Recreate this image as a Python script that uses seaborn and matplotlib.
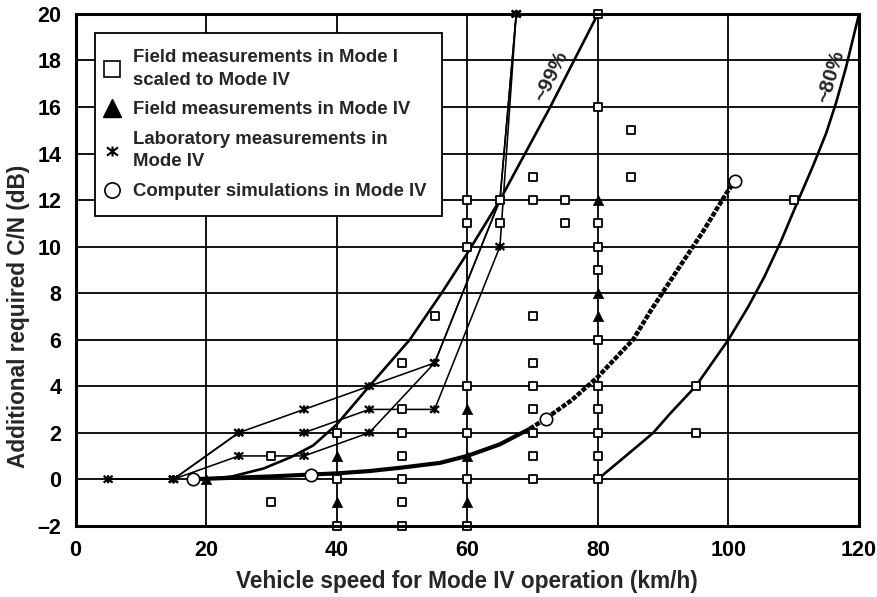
import matplotlib
matplotlib.use("Agg")
import matplotlib.pyplot as plt
from matplotlib.lines import Line2D
from matplotlib.path import Path
import pandas as pd
import seaborn as sns

# Field measurements in Mode I scaled to Mode IV (open squares)
scaled_speed = [30, 30,
                40, 40, 40,
                50, 50, 50, 50, 50, 50, 50,
                55,
                60, 60, 60, 60, 60, 60, 60,
                65, 65,
                70, 70, 70, 70, 70, 70, 70, 70, 70,
                75, 75,
                80, 80, 80, 80, 80, 80, 80, 80, 80, 80, 80,
                85, 85,
                95, 95,
                110]
scaled_cn = [1, -1,
             2, 0, -2,
             5, 3, 2, 1, 0, -1, -2,
             7,
             12, 11, 10, 4, 2, 0, -2,
             12, 11,
             13, 12, 7, 5, 4, 3, 2, 1, 0,
             12, 11,
             20, 16, 11, 10, 9, 6, 4, 3, 2, 1, 0,
             15, 13,
             4, 2,
             12]

# Field measurements in Mode IV (filled triangles)
mode4_speed = [20, 40, 40, 60, 60, 60, 80, 80, 80]
mode4_cn = [0, 1, -1, 3, 1, -1, 12, 8, 7]

# Laboratory measurements in Mode IV (three measured runs)
lab1_speed = [5, 15, 25, 35, 45, 55, 65, 67.5]
lab1_cn = [0, 0, 2, 3, 4, 5, 12, 20]
lab2_speed = [15, 25, 35, 45, 55, 65, 67.5]
lab2_cn = [0, 2, 2, 3, 3, 10, 20]
lab3_speed = [15, 25, 35, 45, 55, 65, 67.5]
lab3_cn = [0, 1, 1, 2, 5, 12, 20]

# Computer simulations in Mode IV
sim_speed = [18, 20, 25, 30, 36, 40, 45, 50, 55.8, 60, 65, 69.6, 72, 76, 80,
             85.4, 88, 92.2, 96, 99.7, 101]
sim_cn = [0, 0.02, 0.07, 0.12, 0.2, 0.25, 0.35, 0.5, 0.7, 1.0, 1.5, 2.17, 2.6,
          3.4, 4.4, 6.0, 7.2, 9.0, 10.6, 12.3, 12.8]
sim_mark_speed = [18, 36, 72, 101]
sim_mark_cn = [0, 0.2, 2.6, 12.8]

# Coverage curves
p99_speed = [20, 24, 28.8, 33, 36.4, 40, 45, 51.2, 56.3, 60.2, 65, 72.7, 80]
p99_cn = [0, 0.12, 0.46, 0.95, 1.45, 2.35, 4.0, 6.0, 8.1, 9.8, 12, 16, 20]
p80_speed = [80, 83, 86.4, 88.5, 91, 95, 100, 103, 105.5, 108, 110.7, 113,
             115, 116.5, 118, 120]
p80_cn = [0, 0.7, 1.5, 2.0, 2.8, 4.0, 6.0, 7.4, 8.7, 10.2, 12, 13.5, 14.9,
          16.2, 17.7, 20]

x_ticks = [0, 20, 40, 60, 80, 100, 120]
y_ticks = [-2, 0, 2, 4, 6, 8, 10, 12, 14, 16, 18, 20]
y_tick_labels = ["\u20132", "0", "2", "4", "6", "8", "10", "12", "14", "16",
                 "18", "20"]

legend_labels = ["Field measurements in Mode I\nscaled to Mode IV",
                 "Field measurements in Mode IV",
                 "Laboratory measurements in\nMode IV",
                 "Computer simulations in Mode IV"]

sns.set_style("white")
plt.rcParams["font.family"] = ["Liberation Sans", "DejaVu Sans"]
plt.rcParams["font.weight"] = "bold"

fig = plt.figure(figsize=(8.78, 5.97), dpi=100)
ax = fig.add_axes([0.086, 0.1194, 0.8924, 0.8572])

ax.set_xlim(0, 120)
ax.set_ylim(-2, 20)
ax.set_xticks(x_ticks)
ax.set_yticks(y_ticks)
ax.set_yticklabels(y_tick_labels)
ax.grid(True, color="black", linewidth=1.3, zorder=0)
ax.set_axisbelow(True)

# "x with a vertical bar" marker for the laboratory points
asterisk = Path(
    [(-1, -0.75), (1, 0.75), (-1, 0.75), (1, -0.75), (0, -0.9), (0, 0.9)],
    [Path.MOVETO, Path.LINETO, Path.MOVETO, Path.LINETO, Path.MOVETO,
     Path.LINETO])

# coverage curves
sns.lineplot(x=p99_speed, y=p99_cn, ax=ax, sort=False, estimator=None,
             color="black", linewidth=1.9, zorder=3)
sns.lineplot(x=p80_speed, y=p80_cn, ax=ax, sort=False, estimator=None,
             color="black", linewidth=1.9, zorder=3)

# simulation curve: solid at low speed, dotted where it climbs
sim = pd.DataFrame({"speed": sim_speed, "cn": sim_cn})
low = sim[sim.speed <= 69.6]
high = sim[sim.speed >= 69.6]
sns.lineplot(data=low, x="speed", y="cn", ax=ax, sort=False, estimator=None,
             color="black", linewidth=3.0, zorder=3)
ax.plot(high.speed, high.cn, color="black", linewidth=3.2,
        linestyle=(0, (1.1, 0.35)), zorder=3)

# laboratory runs
for spd, cn in [(lab1_speed, lab1_cn), (lab2_speed, lab2_cn),
                (lab3_speed, lab3_cn)]:
    sns.lineplot(x=spd, y=cn, ax=ax, sort=False, estimator=None,
                 color="black", linewidth=1.15, zorder=4)
    ax.scatter(spd, cn, marker=asterisk, s=42, facecolor="none",
               edgecolor="black", linewidths=1.6, zorder=6)

# measurement markers
sns.scatterplot(x=scaled_speed, y=scaled_cn, ax=ax, marker="s", s=38,
                facecolor="white", edgecolor="black", linewidth=1.3,
                zorder=7)
sns.scatterplot(x=mode4_speed, y=mode4_cn, ax=ax, marker="^", s=55,
                color="black", edgecolor="black", linewidth=0.5, zorder=7)
sns.scatterplot(x=sim_mark_speed, y=sim_mark_cn, ax=ax, marker="o", s=80,
                facecolor="white", edgecolor="black", linewidth=1.2, zorder=8)
for c in ax.collections:
    c.set_clip_on(False)

# curve labels
ax.text(72.9, 17.3, "~99%", rotation=64, ha="center", va="center",
        fontsize=15, fontweight="bold", rotation_mode="anchor")
ax.text(115.6, 17.3, "~80%", rotation=73, ha="center", va="center",
        fontsize=15, fontweight="bold", rotation_mode="anchor")

for side in ax.spines.values():
    side.set_linewidth(2.2)
    side.set_color("black")
    side.set_zorder(9)

ax.tick_params(axis="both", direction="out", length=4, width=1.6,
               labelsize=15.5, colors="black")
ax.tick_params(axis="x", pad=6)
ax.tick_params(axis="y", pad=6)
for lab in ax.get_xticklabels() + ax.get_yticklabels():
    lab.set_fontweight("bold")

ax.set_xlabel("Vehicle speed for Mode IV operation (km/h)", fontsize=16.3,
              fontweight="bold", labelpad=7)
ax.set_ylabel("Additional required C/N (dB)", fontsize=16.3,
              fontweight="bold")
ax.yaxis.set_label_coords(-0.058, 0.41)

handles = [
    Line2D([], [], marker="s", markersize=12, markerfacecolor="white",
           markeredgecolor="black", markeredgewidth=1.2, linestyle="none"),
    Line2D([], [], marker="^", markersize=13, color="black",
           linestyle="none"),
    Line2D([], [], marker=asterisk, markersize=8, color="black",
           markeredgewidth=1.5, linestyle="none"),
    Line2D([], [], marker="o", markersize=11, markerfacecolor="white",
           markeredgecolor="black", markeredgewidth=1.2, linestyle="none"),
]
leg = ax.legend(handles, legend_labels, loc="upper left",
                bbox_to_anchor=(0.0245, 0.962), borderaxespad=0,
                frameon=True, fancybox=False, framealpha=1,
                edgecolor="black", handlelength=0.2, handletextpad=1.0,
                borderpad=0.85, labelspacing=0.68,
                prop={"weight": "bold", "size": 13.4})
leg.get_frame().set_linewidth(1.3)
leg.set_zorder(10)
for t in leg.get_texts():
    t.set_linespacing(1.42)

fig.savefig("out.png", dpi=100, facecolor="white")
